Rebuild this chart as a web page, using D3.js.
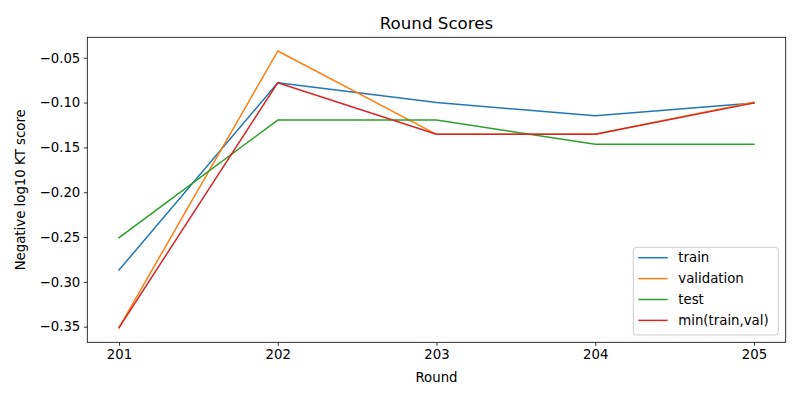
<!DOCTYPE html>
<html>
<head>
<meta charset="utf-8">
<script src="https://cdn.jsdelivr.net/npm/d3@7"></script>
<style>
  body { margin: 0; background: #fff; }
  svg { font-family: "DejaVu Sans", sans-serif; }
</style>
</head>
<body>
<svg id="chart" width="800" height="400"></svg>
<script>
const rounds = [201, 202, 203, 204, 205];
const train = [-0.2868, -0.0779, -0.1000, -0.1147, -0.1005];
const validation = [-0.3510, -0.0425, -0.1354, -0.1354, -0.0994];
const test = [-0.2507, -0.1195, -0.1195, -0.1466, -0.1466];
const minTrainVal = [-0.3510, -0.0779, -0.1354, -0.1354, -0.1005];
const yTicks = [-0.35, -0.30, -0.25, -0.20, -0.15, -0.10, -0.05];

const series = [
  {name: 'train', values: train, color: '#1f77b4'},
  {name: 'validation', values: validation, color: '#ff7f0e'},
  {name: 'test', values: test, color: '#2ca02c'},
  {name: 'min(train,val)', values: minTrainVal, color: '#d62728'}
];

const margin = {top: 37.3, right: 14.3, bottom: 57.7, left: 87.3};
const width = 800 - margin.left - margin.right;
const height = 400 - margin.top - margin.bottom;

const svg = d3.select('#chart');
const chart = svg.append('g')
    .attr('transform', `translate(${margin.left}, ${margin.top})`);

const xScale = d3.scaleLinear()
    .domain([200.8, 205.2])
    .range([0, width]);

const yScale = d3.scaleLinear()
    .domain([-0.3674, -0.0272])
    .range([height, 0]);

// axes
const xAxis = chart.append('g')
    .attr('transform', `translate(0, ${height})`)
    .call(d3.axisBottom(xScale).tickValues(rounds).tickFormat(d3.format('d')).tickSize(3.5).tickPadding(3.5));

const yAxis = chart.append('g')
    .call(d3.axisLeft(yScale).tickValues(yTicks).tickFormat(d => d3.format('.2f')(d).replace('-', '\u2212')).tickSize(3.5).tickPadding(3.5));

[xAxis, yAxis].forEach(a => {
  a.select('.domain').remove();
  a.selectAll('line').attr('stroke', '#000').attr('stroke-width', 0.8);
  a.selectAll('text').attr('fill', '#000').style('font-size', '13.3px').style('font-family', '"DejaVu Sans", sans-serif');
});

// lines
const line = d3.line()
    .x((d, i) => xScale(rounds[i]))
    .y(d => yScale(d));

series.forEach(s => {
  chart.append('path')
      .datum(s.values)
      .attr('fill', 'none')
      .attr('stroke', s.color)
      .attr('stroke-width', 1.5)
      .attr('stroke-linejoin', 'round')
      .attr('stroke-linecap', 'square')
      .attr('d', line);
});

// frame
chart.append('rect')
    .attr('width', width)
    .attr('height', height)
    .attr('fill', 'none')
    .attr('stroke', '#000')
    .attr('stroke-width', 0.8);

// title + labels
chart.append('text')
    .attr('x', width / 2)
    .attr('y', -8)
    .attr('text-anchor', 'middle')
    .style('font-size', '16.7px')
    .text('Round Scores');

chart.append('text')
    .attr('x', width / 2)
    .attr('y', height + 40)
    .attr('text-anchor', 'middle')
    .style('font-size', '13.3px')
    .text('Round');

chart.append('text')
    .attr('transform', `translate(-62, ${height / 2}) rotate(-90)`)
    .attr('text-anchor', 'middle')
    .style('font-size', '13.3px')
    .text('Negative log10 KT score');

// legend
const legend = svg.append('g')
    .attr('transform', 'translate(633.3, 247.3)');

legend.append('rect')
    .attr('width', 145)
    .attr('height', 87.7)
    .attr('rx', 3)
    .attr('fill', '#fff')
    .attr('fill-opacity', 0.8)
    .attr('stroke', '#ccc')
    .attr('stroke-width', 1);

const items = legend.selectAll('.item')
    .data(series)
    .enter()
    .append('g')
    .attr('transform', (d, i) => `translate(0, ${10.4 + i * 20.9})`);

items.append('line')
    .attr('x1', 5)
    .attr('x2', 34.4)
    .attr('stroke', d => d.color)
    .attr('stroke-width', 1.5);

items.append('text')
    .attr('x', 45)
    .attr('dy', '0.35em')
    .style('font-size', '13.3px')
    .text(d => d.name);
</script>
</body>
</html>
